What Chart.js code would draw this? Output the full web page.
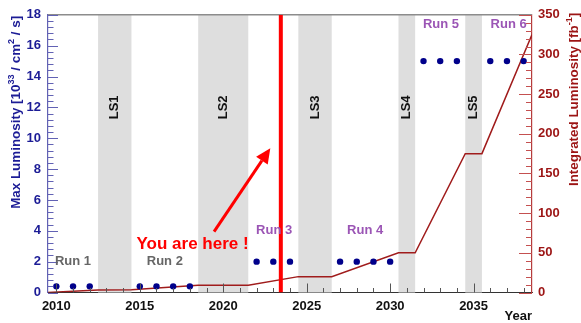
<!DOCTYPE html>
<html>
<head>
<meta charset="utf-8">
<script src="https://cdn.jsdelivr.net/npm/chart.js@4/dist/chart.umd.min.js"></script>
<style>
  html, body { margin: 0; padding: 0; background: #fff; }
  #wrap { width: 581px; height: 323px; position: relative; }
</style>
</head>
<body>
<div id="wrap"><canvas id="c"></canvas></div>
<script>
// Peak instantaneous luminosity per operating year (10^33 cm^-2 s^-1)
const runYears = [2010, 2011, 2012, 2015, 2016, 2017, 2018, 2022, 2023, 2024,
                  2027, 2028, 2029, 2030, 2032, 2033, 2034, 2036, 2037, 2038];
const peakLumi = [0.4, 0.4, 0.4, 0.4, 0.4, 0.4, 0.4, 2, 2, 2,
                  2, 2, 2, 2, 15, 15, 15, 15, 15, 15];

// Cumulative integrated luminosity (fb^-1) at run / shutdown boundaries
const intYears = [2009.5, 2012.5, 2014.5, 2018.5, 2021.5, 2024.5, 2026.5, 2030.5, 2031.5, 2034.5, 2035.5, 2038.5];
const intLumi  = [0, 3, 3.5, 9, 9, 20, 20, 50, 50, 175, 175, 325];

// Long shutdowns
const lsNames = ['LS1', 'LS2', 'LS3', 'LS4', 'LS5'];
const lsStart = [2012.5, 2018.5, 2024.5, 2030.5, 2034.5];
const lsEnd   = [2014.5, 2021.5, 2026.5, 2031.5, 2035.5];

// Run periods
const runNames = ['Run 1', 'Run 2', 'Run 3', 'Run 4', 'Run 5', 'Run 6'];

// Current date marker
const nowYear = 2023.45;

// Axis tick labels
const yearTicks = [2010, 2015, 2020, 2025, 2030, 2035];
const peakTicks = [0, 2, 4, 6, 8, 10, 12, 14, 16, 18];
const intTicks  = [0, 50, 100, 150, 200, 250, 300, 350];

// Annotation anchors in data units (year, peak-luminosity axis)
const runLabelAt = [[2011, 2], [2016.5, 2], [2023.05, 4], [2028.5, 4], [2033.05, 17.4], [2037.1, 17.4]];
const lsLabelY = 12;
const hereText = { text: 'You are here !', xRight: 2021.52, y: 3.1 };
const hereArrow = { from: [2019.45, 3.95], to: [2022.82, 9.35] };

const FONT = '"Liberation Sans", Arial, Helvetica, sans-serif';
const BLUE = '#1c1c96';
const DARKRED = '#9c1414';
const PURPLE = '#9b55b5';

function richText(ctx, parts, size) {
  // parts: [text, isSuperscript]
  let x = 0;
  for (const [t, sup] of parts) {
    const s = sup ? size * 0.68 : size;
    ctx.font = 'bold ' + s + 'px ' + FONT;
    ctx.fillText(t, x, sup ? -size * 0.36 : 0);
    x += ctx.measureText(t).width;
  }
  return x;
}
function richWidth(ctx, parts, size) {
  let w = 0;
  for (const [t, sup] of parts) {
    ctx.font = 'bold ' + (sup ? size * 0.68 : size) + 'px ' + FONT;
    w += ctx.measureText(t).width;
  }
  return w;
}

const shutdownBands = {
  id: 'shutdownBands',
  beforeDatasetsDraw(chart) {
    const { ctx, chartArea: a, scales: { x } } = chart;
    ctx.save();
    ctx.fillStyle = '#dedede';
    for (let i = 0; i < lsStart.length; i++) {
      const x0 = x.getPixelForValue(lsStart[i]);
      const x1 = x.getPixelForValue(lsEnd[i]);
      ctx.fillRect(x0, a.top, x1 - x0, a.bottom - a.top);
    }
    // top frame line
    ctx.strokeStyle = '#8c8c8c';
    ctx.lineWidth = 1.5;
    ctx.beginPath();
    ctx.moveTo(a.left, a.top);
    ctx.lineTo(a.right, a.top);
    ctx.stroke();
    ctx.restore();
  }
};

const decorations = {
  id: 'decorations',
  afterDatasetsDraw(chart) {
    const { ctx, chartArea: a, scales: { x, y, y2 } } = chart;
    ctx.save();

    // inward tick marks
    const tick = (color, segs) => {
      ctx.strokeStyle = color;
      ctx.lineWidth = 1;
      ctx.beginPath();
      for (const [x0, y0, x1, y1] of segs) { ctx.moveTo(x0, y0); ctx.lineTo(x1, y1); }
      ctx.stroke();
    };
    const xs = [];
    for (let yr = 2010; yr <= 2038; yr++) {
      const px = Math.round(x.getPixelForValue(yr)) + 0.5;
      const len = yr % 5 === 0 ? 9 : 4.5;
      xs.push([px, a.bottom, px, a.bottom - len]);
    }
    tick('#555555', xs);
    const ls = [];
    for (let k = 0; k <= 45; k++) {
      const v = k * 0.4;
      const py = Math.round(y.getPixelForValue(v)) + 0.5;
      const len = k % 5 === 0 ? 10 : 5.5;
      ls.push([a.left, py, a.left + len, py]);
    }
    tick('#6262b4', ls);
    const rs = [];
    for (let v = 0; v <= 350; v += 10) {
      const py = Math.round(y2.getPixelForValue(v)) + 0.5;
      const len = v % 50 === 0 ? 13 : 6;
      rs.push([a.right, py, a.right - len, py]);
    }
    tick('#c45050', rs);

    // run labels
    ctx.font = 'bold 13px ' + FONT;
    ctx.textAlign = 'center';
    ctx.textBaseline = 'middle';
    runNames.forEach((name, i) => {
      ctx.fillStyle = i < 2 ? '#666666' : PURPLE;
      const [ax, ay] = runLabelAt[i];
      ctx.fillText(name, x.getPixelForValue(ax), y.getPixelForValue(ay));
    });

    // shutdown labels, rotated
    ctx.fillStyle = '#111111';
    lsNames.forEach((name, i) => {
      const cx = x.getPixelForValue((lsStart[i] + lsEnd[i]) / 2);
      const cy = y.getPixelForValue(lsLabelY);
      ctx.save();
      ctx.translate(cx, cy);
      ctx.rotate(-Math.PI / 2);
      ctx.fillText(name, 0, 0);
      ctx.restore();
    });

    // "you are here" arrow
    const fx = x.getPixelForValue(hereArrow.from[0]), fy = y.getPixelForValue(hereArrow.from[1]);
    const tx = x.getPixelForValue(hereArrow.to[0]), ty = y.getPixelForValue(hereArrow.to[1]);
    const ang = Math.atan2(ty - fy, tx - fx);
    const headLen = 15, headHalf = 7;
    const bx = tx - headLen * Math.cos(ang), by = ty - headLen * Math.sin(ang);
    ctx.strokeStyle = '#ff0000';
    ctx.fillStyle = '#ff0000';
    ctx.lineWidth = 3;
    ctx.beginPath();
    ctx.moveTo(fx, fy);
    ctx.lineTo(bx, by);
    ctx.stroke();
    ctx.beginPath();
    ctx.moveTo(tx, ty);
    ctx.lineTo(bx + headHalf * Math.sin(ang), by - headHalf * Math.cos(ang));
    ctx.lineTo(bx - headHalf * Math.sin(ang), by + headHalf * Math.cos(ang));
    ctx.closePath();
    ctx.fill();

    ctx.font = 'bold 17px ' + FONT;
    ctx.textAlign = 'right';
    ctx.textBaseline = 'middle';
    ctx.fillText(hereText.text, x.getPixelForValue(hereText.xRight), y.getPixelForValue(hereText.y));

    // axis titles
    ctx.textAlign = 'left';
    ctx.textBaseline = 'middle';
    const leftTitle = [['Max Luminosity [10', false], ['33', true], [' / cm', false], ['2', true], [' / s]', false]];
    const rightTitle = [['Integrated Luminosity [fb', false], ['-1', true], [']', false]];
    const ts = 13.4;
    ctx.fillStyle = BLUE;
    ctx.save();
    ctx.translate(16.5, a.top + 1 + richWidth(ctx, leftTitle, ts));
    ctx.rotate(-Math.PI / 2);
    richText(ctx, leftTitle, ts);
    ctx.restore();
    ctx.fillStyle = DARKRED;
    ctx.save();
    ctx.translate(574.5, a.top - 2 + richWidth(ctx, rightTitle, ts));
    ctx.rotate(-Math.PI / 2);
    richText(ctx, rightTitle, ts);
    ctx.restore();

    ctx.fillStyle = '#111111';
    ctx.font = 'bold 13px ' + FONT;
    ctx.textAlign = 'right';
    ctx.fillText('Year', a.right, 316.5);
    ctx.restore();
  }
};

const tickFont = { family: FONT, size: 13, weight: 'bold' };

new Chart(document.getElementById('c'), {
  type: 'scatter',
  data: {
    datasets: [
      {
        label: 'now',
        data: [{ x: nowYear, y: 0 }, { x: nowYear, y: 18 }],
        showLine: true,
        borderColor: '#ff0000',
        borderWidth: 4,
        pointRadius: 0,
        yAxisID: 'y',
        order: 0
      },
      {
        label: 'Max Luminosity',
        data: runYears.map((yr, i) => ({ x: yr, y: peakLumi[i] })),
        backgroundColor: '#00008b',
        borderWidth: 0,
        pointRadius: 3.2,
        yAxisID: 'y',
        order: 1
      },
      {
        label: 'Integrated Luminosity',
        data: intYears.map((yr, i) => ({ x: yr, y: intLumi[i] })),
        showLine: true,
        borderColor: '#a01c1c',
        borderWidth: 1.5,
        pointRadius: 0,
        yAxisID: 'y2',
        order: 2
      }
    ]
  },
  options: {
    responsive: true,
    maintainAspectRatio: false,
    animation: false,
    layout: { padding: { top: 12, left: 0, right: 0, bottom: 0 } },
    plugins: { legend: { display: false }, tooltip: { enabled: false } },
    scales: {
      x: {
        type: 'linear',
        min: 2009.5, max: 2038.5,
        grid: { display: false, drawTicks: false },
        border: { display: true, color: '#333333', width: 1 },
        afterBuildTicks: s => { s.ticks = yearTicks.map(v => ({ value: v })); },
        afterFit: s => { s.height = 30.5; },
        ticks: { font: tickFont, color: '#111111', padding: 6, maxRotation: 0, callback: v => String(v) }
      },
      y: {
        position: 'left',
        min: 0, max: 18,
        grid: { display: false, drawTicks: false },
        border: { display: true, color: '#6262b4', width: 1.2 },
        afterBuildTicks: s => { s.ticks = peakTicks.map(v => ({ value: v })); },
        afterFit: s => { s.width = 48; },
        ticks: { font: tickFont, color: BLUE, padding: 7, callback: v => String(v) }
      },
      y2: {
        position: 'right',
        min: 0, max: 350,
        grid: { display: false, drawTicks: false },
        border: { display: true, color: '#b53c3c', width: 1.2 },
        afterBuildTicks: s => { s.ticks = intTicks.map(v => ({ value: v })); },
        afterFit: s => { s.width = 49; },
        ticks: { font: tickFont, color: DARKRED, padding: 6, callback: v => String(v) }
      }
    }
  },
  plugins: [shutdownBands, decorations]
});
</script>
</body>
</html>
